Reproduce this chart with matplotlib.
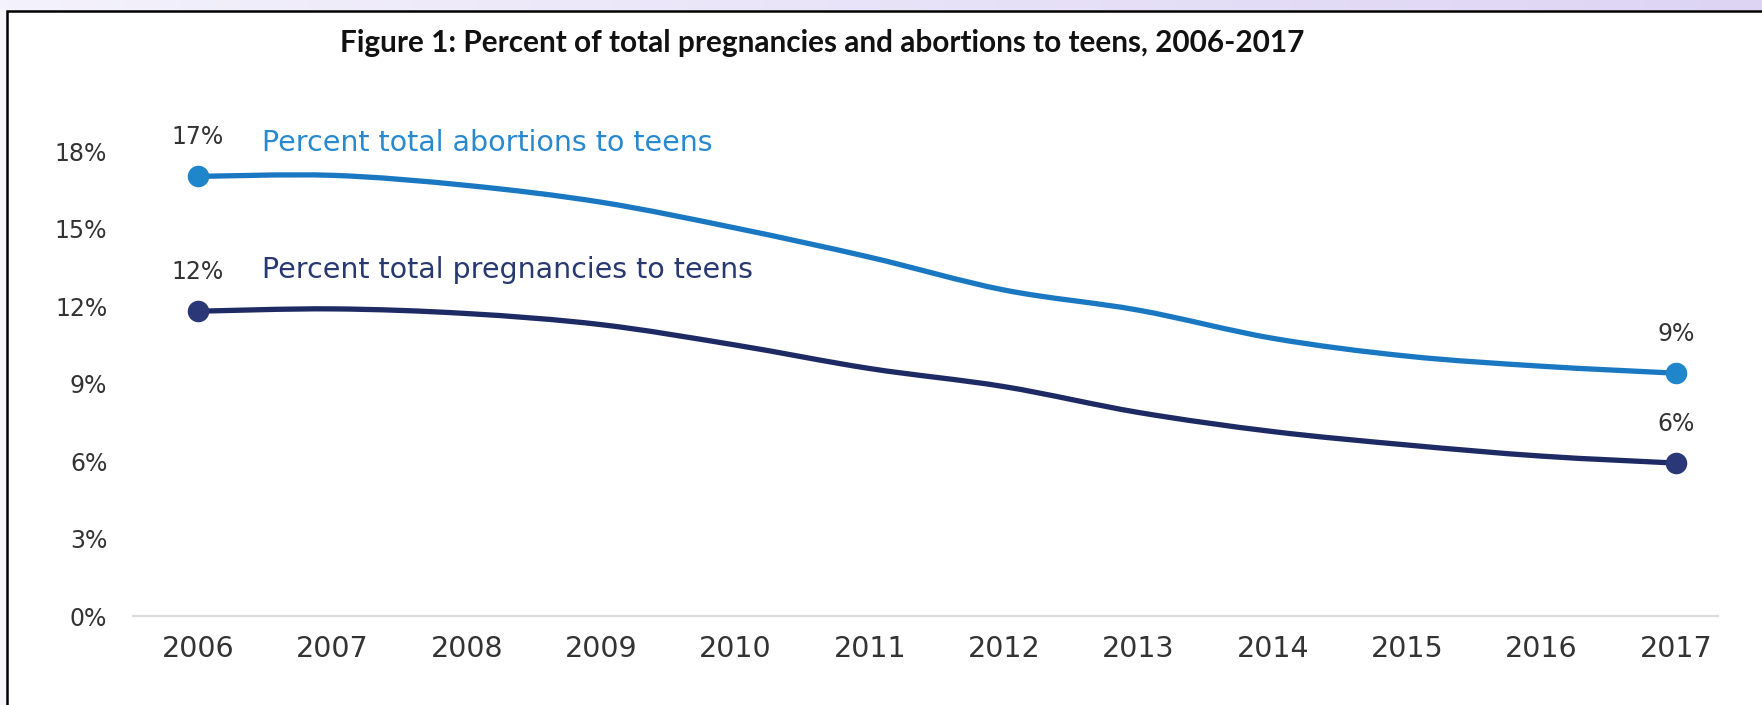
import numpy as np
import matplotlib
matplotlib.use("Agg")
import matplotlib.pyplot as plt
from matplotlib.path import Path
from matplotlib.patches import PathPatch, Rectangle
from matplotlib.colors import LinearSegmentedColormap

# data: share of all pregnancies / abortions that were to teens (%)
years = np.arange(2006, 2018)
abortions = [17.02, 17.06, 16.67, 16.02, 15.02, 13.89, 12.62, 11.84, 10.75, 10.06, 9.67, 9.40]
pregnancies = [11.80, 11.89, 11.71, 11.28, 10.49, 9.58, 8.88, 7.88, 7.14, 6.62, 6.19, 5.92]
y_ticks = [0, 3, 6, 9, 12, 15, 18]

title = "Figure 1: Percent of total pregnancies and abortions to teens, 2006-2017"
lbl_abort = "Percent total abortions to teens"
lbl_preg = "Percent total pregnancies to teens"

c_abort, c_abort_dot, c_abort_txt = "#1a78c2", "#1f86cc", "#2889cf"
c_preg, c_preg_dot, c_preg_txt = "#1d2a63", "#2a3878", "#283870"

W, H = 1762, 705
font = ["DejaVu Sans"]


def smooth_path(xs, ys):
    # catmull-rom through the points, as cubic beziers
    pts = np.column_stack([xs, ys]).astype(float)
    verts = [pts[0]]
    codes = [Path.MOVETO]
    n = len(pts)
    for i in range(n - 1):
        p0 = pts[max(i - 1, 0)]
        p1 = pts[i]
        p2 = pts[i + 1]
        p3 = pts[min(i + 2, n - 1)]
        verts += [p1 + (p2 - p0) / 6, p2 - (p3 - p1) / 6, p2]
        codes += [Path.CURVE4] * 3
    return Path(verts, codes)


fig = plt.figure(figsize=(W / 100, H / 100), dpi=100)
fig.patch.set_facecolor("#f6f5fc")

# white card with black outline
card = Rectangle((7 / W, -0.1), 1.2, 1 - 11 / H + 0.1, transform=fig.transFigure,
                 facecolor="white", edgecolor="black", lw=1.8, zorder=-1)
fig.add_artist(card)

# lavender strip along the top
band = fig.add_axes([0, 1 - 10 / H, 1, 10 / H])
grad = LinearSegmentedColormap.from_list("band", ["#f4f2fc", "#ddd4f4"])
band.imshow(np.linspace(0, 1, 256)[None, :], cmap=grad, aspect="auto")
band.axis("off")

fig.text(340 / W, 1 - 43 / H, title, fontfamily="Lato", fontweight="bold",
         fontsize=21.4, ha="left", va="center", color="#111111")

ax = fig.add_axes([133 / W, (H - 616) / H, (1718 - 133) / W, (616 - 110) / H])
ax.set_facecolor("none")
ax.set_xlim(2006 - 65 / 134.36, 2017 + 42 / 134.36)
ax.set_ylim(0, (616 - 110) / 25.83)

for vals, c_line, c_dot in [(abortions, c_abort, c_abort_dot), (pregnancies, c_preg, c_preg_dot)]:
    ax.add_patch(PathPatch(smooth_path(years, vals), fill=False, edgecolor=c_line,
                           lw=3.8, capstyle="round", joinstyle="round"))
    ax.plot([years[0], years[-1]], [vals[0], vals[-1]], "o", ms=14.5, color=c_dot,
            mec=c_dot, zorder=3)
    for x, v in [(years[0], vals[0]), (years[-1], vals[-1])]:
        ax.annotate(f"{v:.0f}%", (x, v), xytext=(0, 28), textcoords="offset points",
                    ha="center", va="center", fontsize=17, color="#333333", family=font)

ax.annotate(lbl_abort, (years[0], abortions[0]), xytext=(46, 24), textcoords="offset points",
            ha="left", va="center", fontsize=20.5, color=c_abort_txt, family=font)
ax.annotate(lbl_preg, (years[0], pregnancies[0]), xytext=(46, 30), textcoords="offset points",
            ha="left", va="center", fontsize=20.5, color=c_preg_txt, family=font)

for s in ["top", "right", "left"]:
    ax.spines[s].set_visible(False)
ax.spines["bottom"].set_color("#dcdcdc")
ax.spines["bottom"].set_linewidth(1.6)

ax.set_xticks(years)
ax.set_xticklabels([str(y) for y in years], family=font, fontsize=20.5, color="#333333")
ax.set_yticks(y_ticks)
ax.set_yticklabels([f"{t}%" for t in y_ticks], family=font, fontsize=17, color="#333333")
ax.tick_params(axis="both", length=0)
ax.tick_params(axis="y", pad=18.5)
ax.tick_params(axis="x", pad=14)

fig.savefig("out.png", dpi=100, facecolor=fig.get_facecolor())
